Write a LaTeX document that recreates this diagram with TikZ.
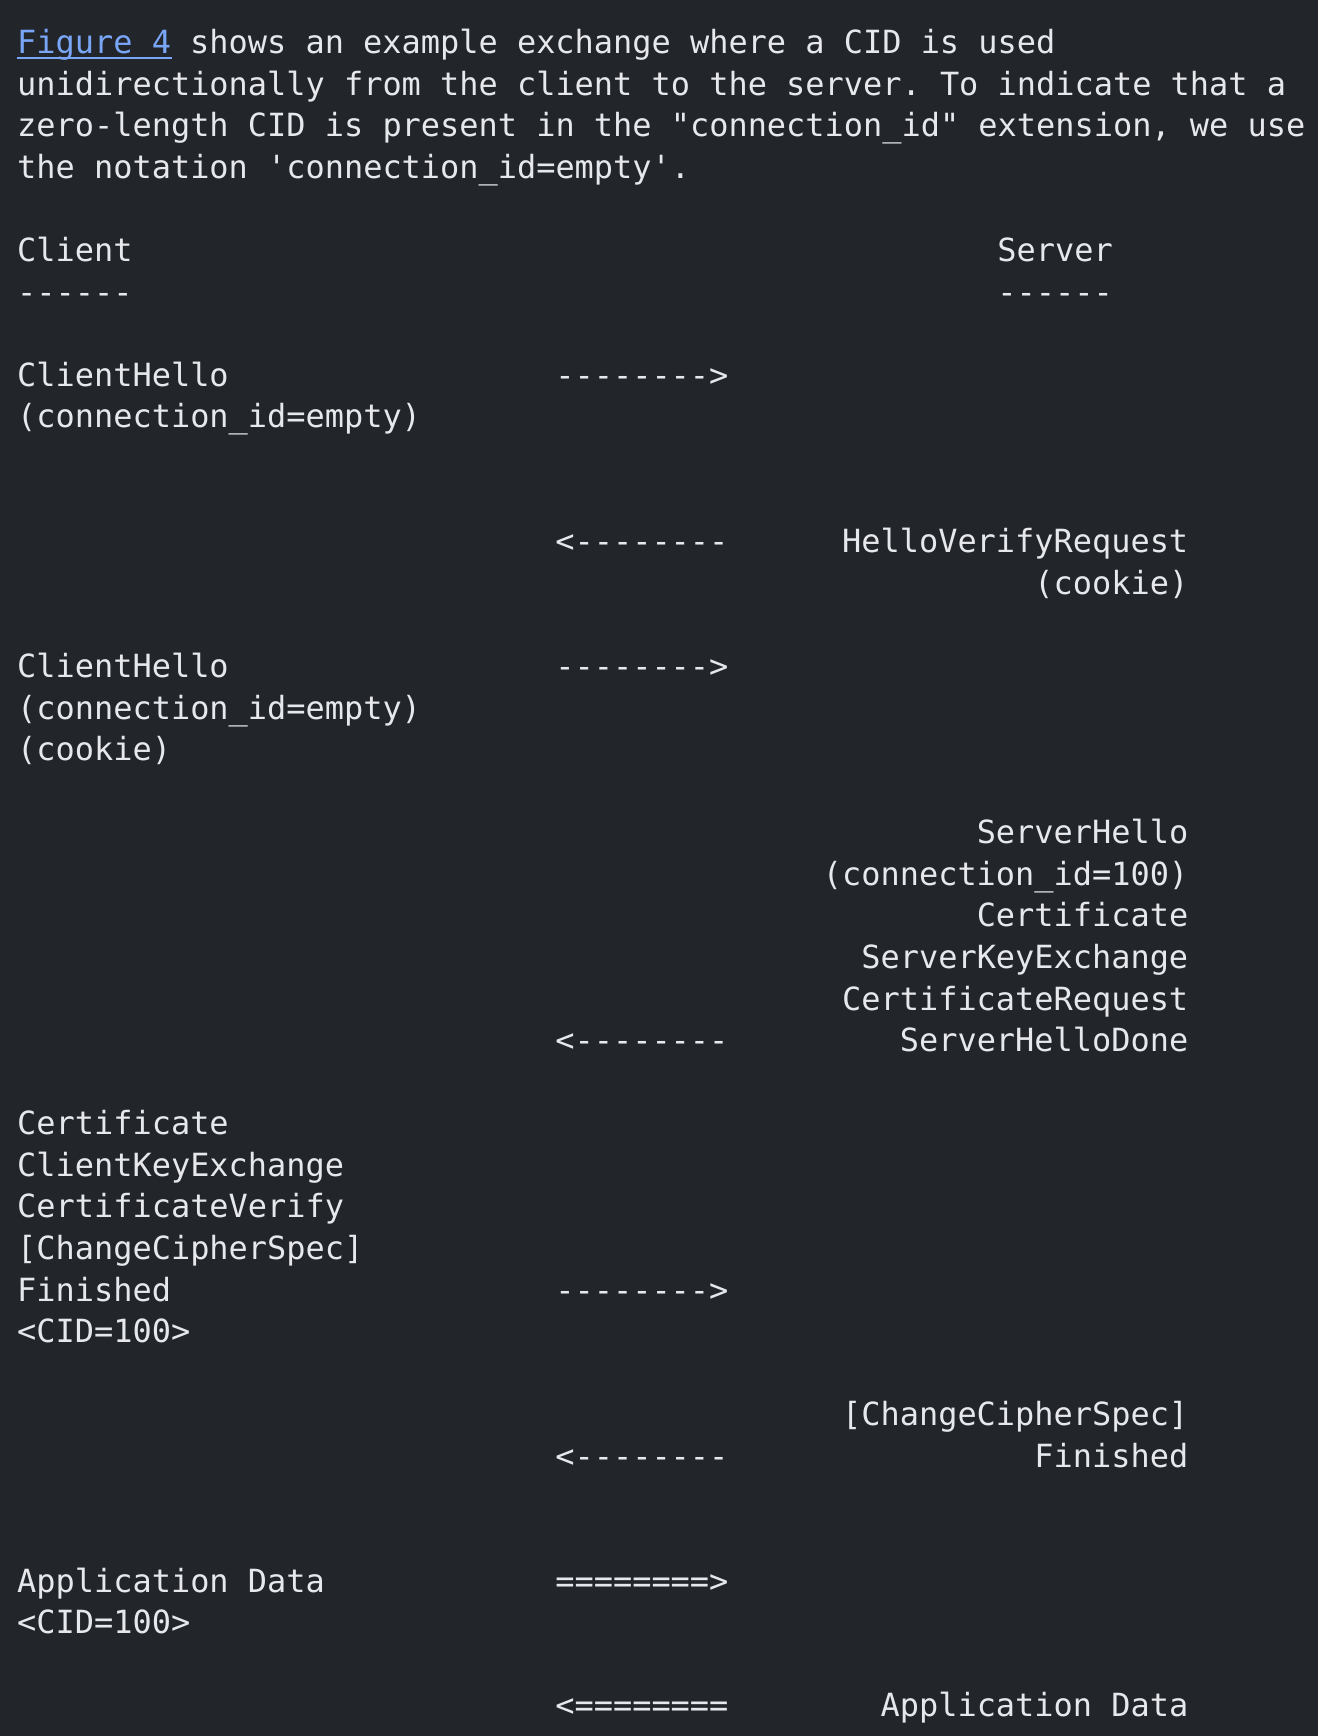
\documentclass[tikz,border=0pt]{standalone}
\usepackage{fontspec}
\setmonofont{DejaVu Sans Mono}
\definecolor{bgc}{HTML}{22252A}
\definecolor{fgc}{HTML}{E6E8EB}
\definecolor{linkc}{HTML}{79A6F6}
\tikzset{
  txt/.style={anchor=base west, inner sep=0, text=fgc, font=\ttfamily\fontsize{9.09}{11}\selectfont},
  rtxt/.style={txt, anchor=base east},
  lnk/.style={txt, text=linkc}
}
\begin{document}
\begin{tikzpicture}[x=0.19228cm, y=-0.4159cm]
\fill[bgc] (-0.86,-1.295) rectangle (67.69,40.463);
\useasboundingbox (-0.86,-1.295) rectangle (67.69,40.463);
% intro text
\node[lnk] (fig) at (0,0){Figure 4};
\draw[linkc, line width=0.6pt] ([yshift=-0.45mm]fig.base west) -- ([yshift=-0.45mm]fig.base east);
\node[txt] (par1) at (9,0){shows an example exchange where a CID is used};
\node[txt] (par2) at (0,1){unidirectionally from the client to the server. To indicate that a};
\node[txt] (par3) at (0,2){zero-length CID is present in the "connection\_id" extension, we use};
\node[txt] (par4) at (0,3){the notation 'connection\_id=empty'.};
% peers
\node[txt] (cli) at (0,5){Client};
\node[txt] (srv) at (51,5){Server};
\node[txt] (cliu) at (0,6){------};
\node[txt] (srvu) at (51,6){------};
% first ClientHello
\node[txt] (ch1) at (0,8){ClientHello};
\node[txt] (ch1a) at (0,9){(connection\_id=empty)};
\node[txt] (arr1) at (28,8){-------->};
% HelloVerifyRequest
\node[txt] (arr2) at (28,12){<--------};
\node[rtxt] (hvr) at (61,12){HelloVerifyRequest};
\node[rtxt] (hvra) at (61,13){(cookie)};
% second ClientHello
\node[txt] (ch2) at (0,15){ClientHello};
\node[txt] (ch2a) at (0,16){(connection\_id=empty)};
\node[txt] (ch2b) at (0,17){(cookie)};
\node[txt] (arr3) at (28,15){-------->};
% server flight
\node[rtxt] (sh) at (61,19){ServerHello};
\node[rtxt] (sha) at (61,20){(connection\_id=100)};
\node[rtxt] (scert) at (61,21){Certificate};
\node[rtxt] (ske) at (61,22){ServerKeyExchange};
\node[rtxt] (creq) at (61,23){CertificateRequest};
\node[rtxt] (shd) at (61,24){ServerHelloDone};
\node[txt] (arr4) at (28,24){<--------};
% client flight
\node[txt] (ccert) at (0,26){Certificate};
\node[txt] (cke) at (0,27){ClientKeyExchange};
\node[txt] (cver) at (0,28){CertificateVerify};
\node[txt] (cccs) at (0,29){[ChangeCipherSpec]};
\node[txt] (cfin) at (0,30){Finished};
\node[txt] (ccid) at (0,31){<CID=100>};
\node[txt] (arr5) at (28,30){-------->};
% server finished
\node[rtxt] (sccs) at (61,33){[ChangeCipherSpec]};
\node[rtxt] (sfin) at (61,34){Finished};
\node[txt] (arr6) at (28,34){<--------};
% application data
\node[txt] (cad) at (0,37){Application Data};
\node[txt] (cadcid) at (0,38){<CID=100>};
\node[txt] (arr7) at (28,37){========>};
\node[txt] (arr8) at (28,40){<========};
\node[rtxt] (sad) at (61,40){Application Data};
\end{tikzpicture}
\end{document}
